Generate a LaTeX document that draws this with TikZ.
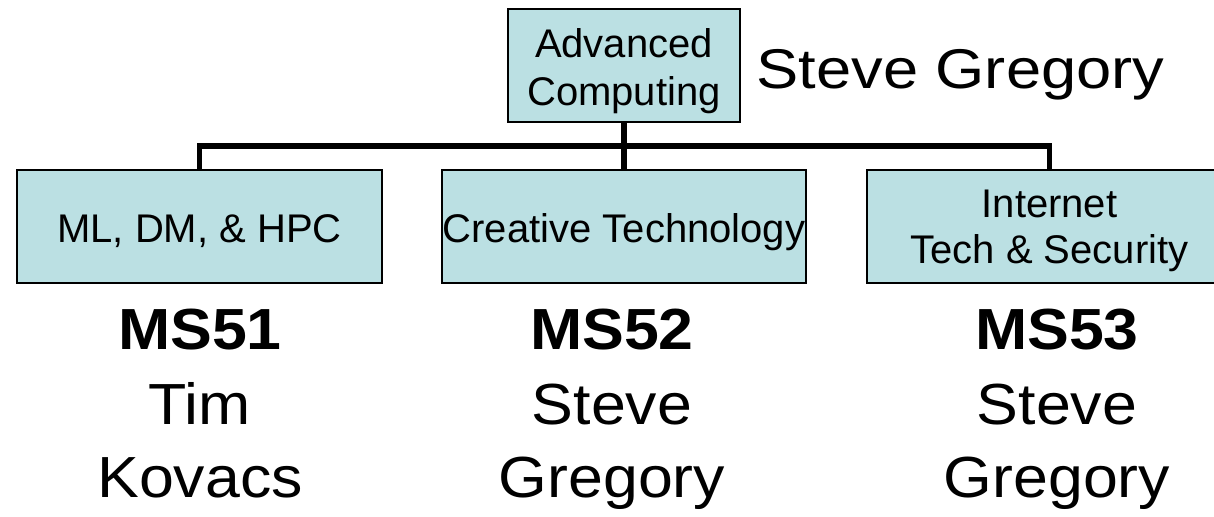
\documentclass[tikz,border=0pt]{standalone}
\usepackage{fontspec}
\usepackage{graphicx}
\setmainfont{Liberation Sans}
\definecolor{boxfill}{RGB}{187,224,227}
\begin{document}
\begin{tikzpicture}[x=0.5pt,y=-0.5pt,
  unitbox/.style={draw=black, line width=0.75pt, fill=boxfill, inner sep=0pt,
    minimum height=56.5pt},
  boxtext/.style={anchor=base, inner sep=0pt, font=\fontsize{20}{24}\selectfont},
  conn/.style={draw=black, line width=2.75pt, line join=miter},
  biglabel/.style={anchor=base, inner sep=0pt, font=\fontsize{29}{35}\selectfont},
  codelabel/.style={anchor=base, inner sep=0pt, font=\fontsize{29}{35}\selectfont\bfseries}
]
\clip (0,0) rectangle (1214,516);
\fill[white] (0,0) rectangle (1214,516);

% boxes
\node[unitbox, minimum width=116pt] (top) at (624,65.5) {};
\node[unitbox, minimum width=182.5pt] (c1) at (199.5,226.5) {};
\node[unitbox, minimum width=182pt] (c2) at (624,226.5) {};
\node[unitbox, minimum width=182.5pt] (c3) at (1049.5,226.5) {};

% box texts
\node[boxtext] (topA) at (624,57) {Advanced};
\node[boxtext] (topB) at (624,105) {Computing};
\node[boxtext] (c1t) at (199.5,242) {ML, DM, \& HPC};
\node[boxtext] (c2t) at (624,242) {Creative Technology};
\node[boxtext] (c3a) at (1049.5,217) {Internet};
\node[boxtext] (c3b) at (1049.5,263) {Tech \& Security};

% connectors
\coordinate (bus) at (624,146);
\draw[conn] (top.south) -- (c2.north);
\draw[conn] (c1.north) |- (bus) -| (c3.north);

% head
\node[anchor=base west, inner sep=0pt, font=\fontsize{28}{34}\selectfont] (head) at (756,88) {\scalebox{1.13}[1]{Steve Gregory}};

% leaders
\node[codelabel] (ms51) at (200,349) {\scalebox{1.08}[1]{MS51}};
\node[biglabel] (n1a) at (200,424) {\scalebox{1.08}[1]{Tim}};
\node[biglabel] (n1b) at (200,497) {\scalebox{1.08}[1]{Kovacs}};

\node[codelabel] (ms52) at (612,349) {\scalebox{1.08}[1]{MS52}};
\node[biglabel] (n2a) at (612,424) {\scalebox{1.08}[1]{Steve}};
\node[biglabel] (n2b) at (612,497) {\scalebox{1.08}[1]{Gregory}};

\node[codelabel] (ms53) at (1057,349) {\scalebox{1.08}[1]{MS53}};
\node[biglabel] (n3a) at (1057,424) {\scalebox{1.08}[1]{Steve}};
\node[biglabel] (n3b) at (1057,497) {\scalebox{1.08}[1]{Gregory}};
\end{tikzpicture}
\end{document}
